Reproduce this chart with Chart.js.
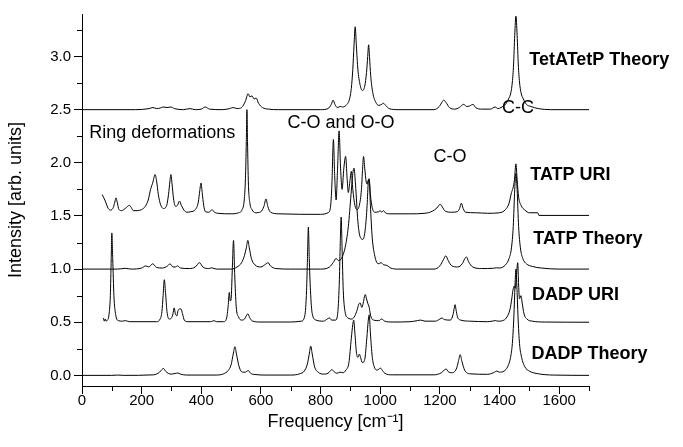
<!DOCTYPE html>
<html>
<head>
<meta charset="utf-8">
<script src="https://cdn.jsdelivr.net/npm/chart.js@4.4.0/dist/chart.umd.min.js"></script>
<style>
  html, body { margin: 0; padding: 0; background: #fff; }
  #wrap { width: 683px; height: 447px; }
</style>
</head>
<body>
<div id="wrap"><canvas id="specChart"></canvas></div>
<script>
// spectra, [frequency, intensity incl. offset]
const tetatetpTheory = [[0,2.5],[180,2.5],[225,2.51],[238,2.52],[250,2.51],[262,2.515],[272,2.525],[285,2.52],[298,2.525],[310,2.51],[340,2.5],[362,2.51],[380,2.5],[400,2.505],[413,2.525],[428,2.505],[470,2.5],[495,2.51],[507,2.52],[520,2.51],[535,2.52],[548,2.58],[557,2.65],[563,2.62],[570,2.63],[577,2.6],[584,2.61],[592,2.56],[605,2.52],[625,2.505],[660,2.5],[800,2.5],[825,2.51],[836,2.55],[842,2.59],[848,2.55],[856,2.52],[866,2.53],[874,2.525],[885,2.54],[897,2.6],[903,2.7],[908,2.88],[912,3.1],[916,3.28],[920,3.1],[925,2.88],[932,2.74],[940,2.68],[948,2.72],[954,2.85],[958,3.0],[961,3.11],[964,3.0],[968,2.82],[975,2.66],[985,2.57],[995,2.54],[1005,2.55],[1011,2.56],[1018,2.54],[1030,2.51],[1060,2.5],[1180,2.5],[1198,2.53],[1208,2.575],[1213,2.59],[1220,2.57],[1232,2.52],[1250,2.505],[1265,2.52],[1280,2.55],[1290,2.53],[1300,2.535],[1311,2.55],[1320,2.52],[1340,2.505],[1370,2.505],[1385,2.525],[1395,2.51],[1405,2.52],[1420,2.55],[1430,2.6],[1438,2.66],[1443,2.76],[1447,2.92],[1451,3.2],[1455,3.38],[1459,3.2],[1463,2.92],[1467,2.76],[1472,2.66],[1480,2.6],[1490,2.55],[1505,2.53],[1530,2.51],[1570,2.5],[1700,2.5]];

const tatpUri = [[68,1.70],[78,1.64],[88,1.57],[96,1.555],[105,1.58],[110,1.63],[114,1.67],[118,1.63],[124,1.56],[132,1.55],[145,1.57],[153,1.59],[159,1.60],[165,1.58],[172,1.55],[185,1.55],[200,1.56],[212,1.59],[222,1.65],[230,1.75],[238,1.82],[245,1.89],[250,1.83],[256,1.7],[263,1.61],[273,1.57],[284,1.6],[290,1.7],[295,1.83],[298,1.89],[302,1.8],[307,1.66],[314,1.59],[320,1.6],[327,1.64],[333,1.6],[342,1.555],[351,1.535],[365,1.54],[380,1.56],[390,1.63],[395,1.74],[399,1.81],[403,1.72],[408,1.6],[414,1.54],[425,1.535],[432,1.55],[436,1.56],[442,1.54],[455,1.525],[500,1.52],[525,1.53],[537,1.56],[544,1.65],[548,1.85],[551,2.2],[553,2.5],[555,2.2],[558,1.8],[563,1.62],[570,1.56],[582,1.53],[600,1.54],[610,1.59],[617,1.66],[623,1.59],[632,1.535],[660,1.52],[800,1.515],[825,1.53],[833,1.58],[838,1.8],[843,2.22],[847,1.9],[852,1.65],[857,1.95],[862,2.3],[867,1.95],[872,1.75],[878,1.95],[884,2.06],[889,1.85],[893,1.72],[898,1.82],[903,1.92],[908,1.75],[915,1.6],[922,1.56],[930,1.6],[937,1.75],[941,1.95],[944,2.06],[948,1.95],[953,1.82],[957,1.8],[960,1.84],[963,1.84],[967,1.7],[973,1.58],[982,1.535],[995,1.54],[1000,1.55],[1005,1.535],[1011,1.55],[1017,1.53],[1030,1.52],[1100,1.52],[1150,1.525],[1175,1.545],[1190,1.575],[1201,1.61],[1208,1.585],[1218,1.545],[1240,1.535],[1258,1.54],[1266,1.57],[1272,1.62],[1278,1.57],[1286,1.535],[1320,1.53],[1360,1.525],[1400,1.53],[1420,1.56],[1432,1.62],[1440,1.72],[1445,1.76],[1450,1.84],[1455,1.99],[1459,1.84],[1464,1.68],[1472,1.6],[1485,1.555],[1500,1.53],[1528,1.53],[1532,1.505],[1700,1.505]];

const tatpTheory = [[0,1.0],[120,1.0],[145,1.007],[165,1.0],[200,1.01],[214,1.03],[224,1.02],[237,1.05],[250,1.015],[270,1.01],[287,1.03],[295,1.05],[305,1.02],[313,1.02],[320,1.03],[330,1.01],[360,1.005],[380,1.02],[394,1.06],[405,1.02],[425,1.005],[435,1.012],[450,1.0],[500,1.0],[520,1.02],[535,1.06],[545,1.13],[551,1.2],[556,1.27],[561,1.2],[568,1.1],[580,1.04],[600,1.02],[615,1.045],[624,1.06],[632,1.03],[650,1.005],[700,1.0],[800,1.0],[830,1.02],[842,1.06],[852,1.10],[860,1.08],[870,1.1],[882,1.2],[893,1.4],[902,1.7],[908,1.9],[912,1.95],[917,1.8],[925,1.45],[933,1.3],[942,1.28],[950,1.38],[956,1.6],[960,1.82],[963,1.85],[967,1.6],[973,1.3],[982,1.12],[993,1.05],[1003,1.06],[1012,1.04],[1022,1.035],[1035,1.01],[1060,1.0],[1180,1.0],[1200,1.03],[1212,1.09],[1220,1.125],[1228,1.08],[1240,1.03],[1260,1.02],[1275,1.05],[1284,1.1],[1289,1.115],[1296,1.07],[1310,1.02],[1340,1.005],[1380,1.008],[1390,1.012],[1400,1.01],[1420,1.04],[1432,1.1],[1440,1.2],[1446,1.4],[1451,1.75],[1455,1.9],[1459,1.75],[1464,1.4],[1470,1.2],[1478,1.1],[1490,1.05],[1510,1.025],[1540,1.01],[1600,1.0],[1700,1.0]];

const dadpUri = [[72,0.54],[75,0.51],[78,0.53],[81,0.51],[85,0.52],[90,0.56],[95,0.75],[98,1.1],[100,1.34],[103,1.1],[107,0.75],[113,0.57],[122,0.515],[135,0.51],[145,0.515],[160,0.505],[250,0.505],[262,0.53],[268,0.6],[272,0.75],[276,0.9],[280,0.78],[285,0.6],[292,0.53],[300,0.54],[305,0.58],[309,0.635],[313,0.58],[318,0.56],[322,0.61],[327,0.625],[332,0.625],[337,0.58],[343,0.52],[355,0.505],[430,0.505],[437,0.51],[443,0.515],[450,0.505],[475,0.505],[485,0.54],[490,0.65],[494,0.78],[497,0.7],[500,0.72],[504,1.0],[508,1.27],[512,0.95],[517,0.65],[525,0.55],[535,0.52],[545,0.53],[551,0.56],[556,0.58],[562,0.545],[572,0.51],[600,0.502],[700,0.502],[735,0.51],[747,0.56],[753,0.8],[756,1.1],[759,1.395],[762,1.1],[766,0.8],[772,0.58],[785,0.52],[810,0.51],[822,0.53],[830,0.54],[837,0.52],[850,0.52],[858,0.6],[863,0.9],[866,1.25],[869,1.49],[872,1.2],[876,0.8],[882,0.6],[892,0.54],[905,0.53],[915,0.56],[923,0.62],[928,0.67],[933,0.68],[938,0.64],[943,0.68],[947,0.74],[950,0.76],[954,0.72],[958,0.68],[963,0.64],[968,0.56],[978,0.52],[995,0.515],[1005,0.53],[1015,0.51],[1040,0.502],[1100,0.505],[1125,0.515],[1136,0.52],[1150,0.51],[1185,0.51],[1200,0.53],[1207,0.54],[1215,0.525],[1235,0.52],[1244,0.57],[1248,0.63],[1251,0.665],[1254,0.62],[1259,0.55],[1270,0.52],[1300,0.51],[1360,0.505],[1375,0.51],[1386,0.515],[1395,0.51],[1415,0.52],[1425,0.55],[1435,0.62],[1441,0.72],[1445,0.8],[1449,0.84],[1453,0.82],[1457,0.95],[1461,1.06],[1464,0.85],[1467,0.72],[1472,0.75],[1476,0.68],[1482,0.58],[1492,0.53],[1510,0.51],[1550,0.502],[1700,0.5]];

const dadpTheory = [[0,0],[100,0],[120,0.003],[140,0],[240,0.005],[260,0.03],[268,0.055],[273,0.065],[280,0.04],[290,0.018],[300,0.012],[312,0.018],[321,0.022],[330,0.012],[350,0.003],[450,0.003],[475,0.015],[490,0.045],[500,0.1],[507,0.2],[513,0.27],[518,0.2],[527,0.08],[538,0.03],[548,0.03],[553,0.04],[558,0.045],[565,0.02],[580,0.008],[620,0.003],[700,0.003],[730,0.015],[745,0.04],[755,0.1],[762,0.2],[767,0.275],[772,0.2],[780,0.08],[792,0.03],[810,0.012],[825,0.02],[832,0.04],[838,0.055],[845,0.035],[855,0.02],[865,0.03],[875,0.025],[885,0.05],[895,0.12],[903,0.35],[908,0.48],[911,0.52],[915,0.4],[920,0.22],[925,0.17],[930,0.2],[934,0.17],[940,0.12],[948,0.15],[955,0.35],[960,0.52],[963,0.57],[967,0.4],[973,0.18],[980,0.08],[990,0.05],[996,0.06],[1000,0.07],[1005,0.055],[1015,0.02],[1040,0.005],[1180,0.005],[1205,0.025],[1215,0.05],[1221,0.06],[1228,0.035],[1240,0.025],[1255,0.06],[1262,0.13],[1268,0.195],[1274,0.13],[1283,0.05],[1300,0.015],[1360,0.01],[1380,0.025],[1391,0.04],[1400,0.03],[1415,0.04],[1427,0.08],[1437,0.17],[1443,0.3],[1448,0.55],[1452,0.85],[1455,1.0],[1458,0.85],[1462,0.55],[1467,0.3],[1474,0.17],[1485,0.08],[1500,0.04],[1530,0.015],[1580,0.003],[1700,0]];

const xTicks = [0, 200, 400, 600, 800, 1000, 1200, 1400, 1600];
const xMinor = [100, 300, 500, 700, 900, 1100, 1300, 1500, 1700];
const yTicks = [0, 0.5, 1.0, 1.5, 2.0, 2.5, 3.0];
const yMinor = [0.25, 0.75, 1.25, 1.75, 2.25, 2.75, 3.25];

// series names next to each trace, and band notes
const seriesLabels = [
  ['TetATetP Theory', 1500, 2.918],
  ['TATP URI', 1503, 1.839],
  ['TATP Theory', 1513, 1.238],
  ['DADP URI', 1509, 0.706],
  ['DADP Theory', 1507, 0.157]
];
const bandNotes = [
  ['Ring deformations', 24, 2.23],
  ['C-O and O-O', 689, 2.324],
  ['C-O', 1179, 2.005],
  ['C-C', 1408, 2.464]
];

Chart.defaults.font.family = "'Liberation Sans', Arial, sans-serif";
Chart.defaults.color = '#000';

const textPlugin = {
  id: 'textPlugin',
  afterDraw(chart) {
    const ctx = chart.ctx;
    const x = chart.scales.x, y = chart.scales.y;
    ctx.save();
    // minor ticks
    ctx.strokeStyle = '#000';
    ctx.lineWidth = 1;
    ctx.beginPath();
    xMinor.forEach(v => {
      const px = Math.round(x.getPixelForValue(v)) + 0.5;
      ctx.moveTo(px, x.top);
      ctx.lineTo(px, x.top + 5);
    });
    yMinor.forEach(v => {
      const py = Math.round(y.getPixelForValue(v)) + 0.5;
      ctx.moveTo(y.right, py);
      ctx.lineTo(y.right - 5, py);
    });
    ctx.stroke();

    ctx.fillStyle = '#000';
    ctx.textBaseline = 'alphabetic';
    ctx.textAlign = 'left';
    ctx.font = "bold 18px 'Liberation Sans', Arial, sans-serif";
    seriesLabels.forEach(l => ctx.fillText(l[0], x.getPixelForValue(l[1]), y.getPixelForValue(l[2])));
    ctx.font = "18px 'Liberation Sans', Arial, sans-serif";
    bandNotes.forEach(l => ctx.fillText(l[0], x.getPixelForValue(l[1]), y.getPixelForValue(l[2])));
    ctx.restore();
  }
};

function line(data) {
  return {
    data: data,
    borderColor: '#000',
    borderWidth: 1,
    pointRadius: 0,
    fill: false,
    cubicInterpolationMode: 'monotone'
  };
}

new Chart(document.getElementById('specChart'), {
  type: 'line',
  data: {
    datasets: [line(tetatetpTheory), line(tatpUri), line(tatpTheory), line(dadpUri), line(dadpTheory)]
  },
  options: {
    responsive: true,
    maintainAspectRatio: false,
    animation: false,
    layout: { padding: { left: 0, top: 14, right: 94, bottom: 0 } },
    plugins: { legend: { display: false }, tooltip: { enabled: false } },
    scales: {
      x: {
        type: 'linear',
        min: 0,
        max: 1700,
        afterBuildTicks: s => { s.ticks = xTicks.map(v => ({ value: v })); },
        afterFit: s => { s.height = 61; },
        grid: { drawOnChartArea: false, tickLength: 8, tickColor: '#000' },
        border: { color: '#000', width: 1 },
        ticks: { autoSkip: false, maxRotation: 0, padding: -2, font: { size: 15 }, callback: v => String(v) },
        title: { display: true, text: 'Frequency [cm⁻¹]', font: { size: 18 }, padding: { top: 0, bottom: 14 } }
      },
      y: {
        min: -0.1,
        max: 3.4,
        afterBuildTicks: s => { s.ticks = yTicks.map(v => ({ value: v })); },
        afterFit: s => { s.width = 82; },
        grid: { drawOnChartArea: false, tickLength: 8, tickColor: '#000' },
        border: { color: '#000', width: 1 },
        ticks: { autoSkip: false, padding: 3, font: { size: 15 }, callback: v => v.toFixed(1) },
        title: { display: true, text: 'Intensity [arb. units]', font: { size: 18 }, padding: { top: 5, bottom: 0 } }
      }
    }
  },
  plugins: [textPlugin]
});
</script>
</body>
</html>
